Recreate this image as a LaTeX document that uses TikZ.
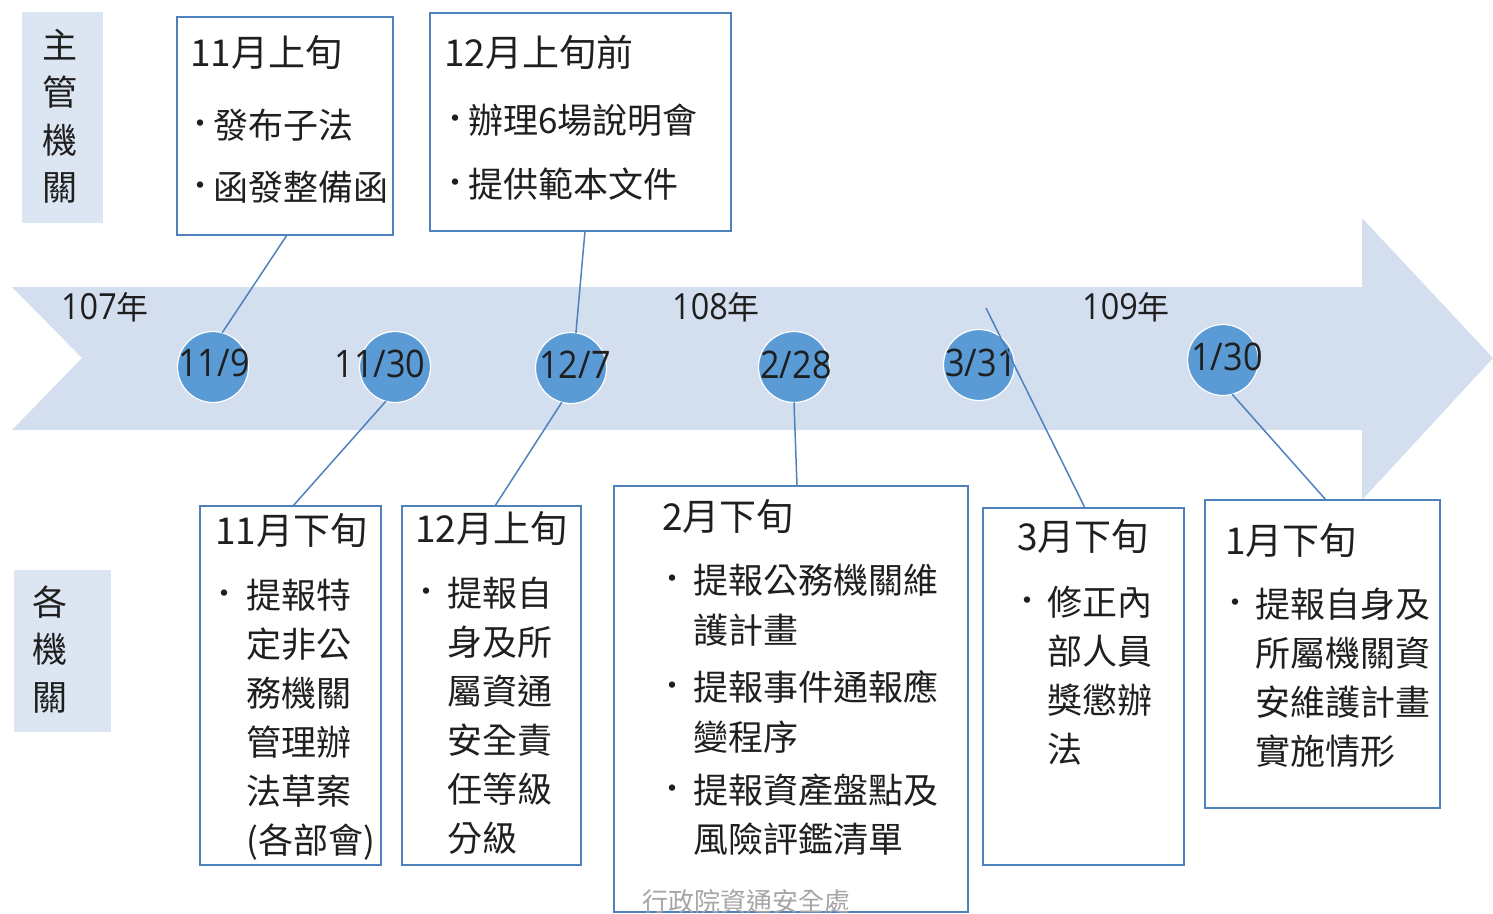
\documentclass[tikz,border=0pt]{standalone}
\usepackage{fontspec}
\setmainfont{Noto Sans CJK TC}
\newfontfamily\datefont[FakeStretch=0.9]{Open Sans}
\definecolor{arrowbg}{HTML}{D3DEEF}
\definecolor{lblbg}{HTML}{DCE6F2}
\definecolor{dotblue}{HTML}{5B9BD5}
\definecolor{boxblue}{HTML}{4F81BD}
\definecolor{txt}{HTML}{1F1F1F}
\definecolor{footgray}{HTML}{A6A6A6}
\tikzset{
  tbox/.style={draw=boxblue, line width=2pt, inner sep=0pt, outer sep=0pt, anchor=north west},
  lbl/.style={fill=lblbg, inner sep=0pt, outer sep=0pt, anchor=north west},
  datedot/.style={circle, fill=dotblue, draw=white, line width=1.2pt, minimum size=71pt, inner sep=0pt, outer sep=0pt},
  conn/.style={draw=boxblue, line width=1.5pt},
  ttl/.style={anchor=base west, inner sep=0pt, text=txt, font=\fontsize{37}{37}\selectfont},
  body/.style={anchor=base west, inner sep=0pt, text=txt, font=\fontsize{35}{49}\selectfont},
  bul/.style={anchor=center, inner sep=0pt, text=txt, font=\fontsize{30}{30}\selectfont},
  datetxt/.style={anchor=center, inner sep=0pt, text=txt, font=\datefont\fontsize{38}{38}\selectfont},
  yeartxt/.style={anchor=center, inner sep=0pt, text=txt},
}
\newcommand{\lines}[2][400pt]{\parbox[t]{#1}{#2}}
\begin{document}
\begin{tikzpicture}[x=1pt,y=-1pt]
\useasboundingbox (0,0) rectangle (1493,913);
\clip (0,0) rectangle (1493,913);
% timeline arrow
\fill[arrowbg] (12,287) -- (1362,287) -- (1362,218) -- (1493,358) -- (1362,500) -- (1362,430) -- (12,430) -- (82,358) -- cycle;
% side labels
\node[lbl, minimum width=81pt, minimum height=211pt] (lab1) at (22,12) {};
\node[anchor=base, inner sep=0pt, text=txt, font=\fontsize{35}{47.5}\selectfont] (lab1t) at (60,58) {\parbox[t]{40pt}{\centering 主\\管\\機\\關}};
\node[lbl, minimum width=97pt, minimum height=162pt] (lab2) at (14,570) {};
\node[anchor=base, inner sep=0pt, text=txt, font=\fontsize{35}{47.5}\selectfont] (lab2t) at (50,615) {\parbox[t]{40pt}{\centering 各\\機\\關}};
% years
\node[yeartxt] (y107) at (105,307) {{\datefont\fontsize{36}{36}\selectfont 107}{\fontsize{32}{32}\selectfont 年}};
\node[yeartxt] (y108) at (716,307) {{\datefont\fontsize{36}{36}\selectfont 108}{\fontsize{32}{32}\selectfont 年}};
\node[yeartxt] (y109) at (1126,307) {{\datefont\fontsize{36}{36}\selectfont 109}{\fontsize{32}{32}\selectfont 年}};
% date circles
\node[datedot] (c1) at (213,367) {};
\node[datedot] (c2) at (395,367) {};
\node[datedot] (c3) at (571,368) {};
\node[datedot] (c4) at (794,367) {};
\node[datedot] (c5) at (979,365) {};
\node[datedot] (c6) at (1223,360) {};
\node[datetxt] (d1) at (214,363) {11/9};
\node[datetxt] (d2) at (380,364) {11/30};
\node[datetxt] (d3) at (575,365) {12/7};
\node[datetxt] (d4) at (796,365) {2/28};
\node[datetxt] (d5) at (981,363) {3/31};
\node[datetxt] (d6) at (1227,357) {1/30};
% boxes
\node[tbox, minimum width=216pt, minimum height=218pt] (b1) at (177,17) {};
\node[tbox, minimum width=301pt, minimum height=218pt] (b2) at (430,13) {};
\node[tbox, minimum width=181pt, minimum height=359pt] (b3) at (200,506) {};
\node[tbox, minimum width=179pt, minimum height=359pt] (b4) at (402,506) {};
\node[tbox, minimum width=354pt, minimum height=426pt] (b5) at (614,486) {};
\node[tbox, minimum width=201pt, minimum height=357pt] (b6) at (983,508) {};
\node[tbox, minimum width=235pt, minimum height=308pt] (b7) at (1205,500) {};
% connectors
\coordinate (e6) at (986,308);
\draw[conn] ([xshift=2pt]b1.south) -- (c1.75);
\draw[conn] ([xshift=4.5pt]b2.south) -- (c3.82);
\draw[conn] ([xshift=2.5pt]b3.north) -- (c2.255);
\draw[conn] ([xshift=3.5pt]b4.north) -- (c3.255);
\draw[conn] ([xshift=6pt]b5.north) -- (c4.south);
\draw[conn] ([xshift=1.5pt]b6.north) -- (e6);
\draw[conn] ([xshift=3.5pt]b7.north) -- (c6.285);
% box 1
\node[ttl] (t1) at (190,66) {11月上旬};
\node[bul] (p1a) at (200,127) {•};
\node[body] (l1a) at (213,138) {發布子法};
\node[bul] (p1b) at (200,189) {•};
\node[body] (l1b) at (213,200) {函發整備函};
% box 2
\node[ttl] (t2) at (444,66) {12月上旬前};
\node[bul] (p2a) at (455,122) {•};
\node[body] (l2a) at (468,133) {辦理6場說明會};
\node[bul] (p2b) at (455,186) {•};
\node[body] (l2b) at (468,197) {提供範本文件};
% box 3
\node[ttl] (t3) at (215,544) {11月下旬};
\node[bul] (p3) at (224,597) {•};
\node[body] (l3) at (246,608) {\lines{提報特\\定非公\\務機關\\管理辦\\法草案\\(各部會)}};
% box 4
\node[ttl] (t4) at (415,542) {12月上旬};
\node[bul] (p4) at (426,595) {•};
\node[body] (l4) at (447,606) {\lines{提報自\\身及所\\屬資通\\安全責\\任等級\\分級}};
% box 5
\node[ttl] (t5) at (662,530) {2月下旬};
\node[bul] (p5a) at (672,582) {•};
\node[body, font=\fontsize{35}{50}\selectfont] (l5a) at (693,593) {\lines{提報公務機關維\\護計畫}};
\node[bul] (p5b) at (672,689) {•};
\node[body, font=\fontsize{35}{50}\selectfont] (l5b) at (693,700) {\lines{提報事件通報應\\變程序}};
\node[bul] (p5c) at (672,792) {•};
\node[body, font=\fontsize{35}{49}\selectfont] (l5c) at (693,803) {\lines{提報資產盤點及\\風險評鑑清單}};
\node[anchor=base west, inner sep=0pt, text=footgray, font=\fontsize{26}{26}\selectfont] (foot) at (642,911) {行政院資通安全處};
% box 6
\node[ttl] (t6) at (1017,550) {3月下旬};
\node[bul] (p6) at (1027,604) {•};
\node[body] (l6) at (1047,615) {\lines{修正內\\部人員\\獎懲辦\\法}};
% box 7
\node[ttl] (t7) at (1225,554) {1月下旬};
\node[bul] (p7) at (1235,606) {•};
\node[body] (l7) at (1255,617) {\lines{提報自身及\\所屬機關資\\安維護計畫\\實施情形}};
\end{tikzpicture}
\end{document}
